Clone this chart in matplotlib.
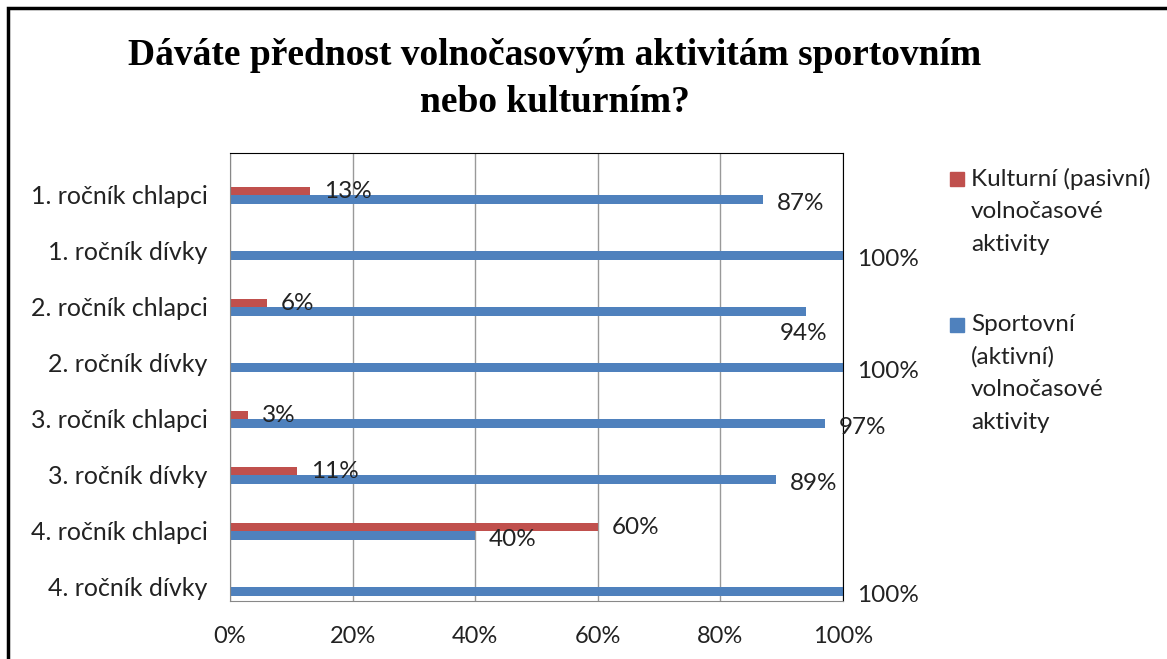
import matplotlib
matplotlib.use("Agg")
import matplotlib.pyplot as plt
from matplotlib.patches import Rectangle
from matplotlib.ticker import PercentFormatter

# data
categories = ["1. ročník chlapci", "1. ročník dívky", "2. ročník chlapci", "2. ročník dívky",
              "3. ročník chlapci", "3. ročník dívky", "4. ročník chlapci", "4. ročník dívky"]
kulturni = [13, 0, 6, 0, 3, 11, 60, 0]
sportovni = [87, 100, 94, 100, 97, 89, 40, 100]
legend_labels = ["Kulturní (pasivní)\nvolnočasové\naktivity",
                 "Sportovní\n(aktivní)\nvolnočasové\naktivity"]
title = "Dáváte přednost volnočasovým aktivitám sportovním\nnebo kulturním?"

red = "#c0504d"
blue = "#4f81bd"
txt = "#222222"
font = ["Lato", "DejaVu Sans"]
W, H = 1167, 659

fig = plt.figure(figsize=(W / 100, H / 100), dpi=100)
ax = fig.add_axes([230 / W, 58 / H, 613 / W, 448 / H])

pos = list(range(len(categories)))
h = 0.15
ax.barh([p + 0.18 for p in pos], kulturni, height=h, color=red)
ax.barh([p + 0.33 for p in pos], sportovni, height=h, color=blue)

# data labels, nudged like in the original
for p, v in zip(pos, kulturni):
    if v > 0:
        ax.annotate(f"{v}%", (v, p + 0.18), xytext=(14, 0), textcoords="offset pixels",
                    ha="left", va="center", fontsize=17.5, family=font, color=txt)
for p, v in zip(pos, sportovni):
    off = (14, -4)
    if v == 94:
        off = (-26, -22)
    ax.annotate(f"{v}%", (v, p + 0.33), xytext=off, textcoords="offset pixels",
                ha="left", va="center", fontsize=17.5, family=font, color=txt,
                annotation_clip=False)

ax.set_xlim(0, 100)
ax.set_ylim(len(categories) - 0.5, -0.5)
ax.set_xticks([0, 20, 40, 60, 80, 100])
ax.xaxis.set_major_formatter(PercentFormatter(decimals=0))
ax.set_yticks([p + 0.25 for p in pos])
ax.set_yticklabels(categories)
for lab in ax.get_xticklabels():
    lab.set_family(font)
    lab.set_fontsize(17)
    lab.set_color(txt)
for lab in ax.get_yticklabels():
    lab.set_family(font)
    lab.set_fontsize(18)
    lab.set_color(txt)
ax.tick_params(axis="x", length=0, pad=18)
ax.tick_params(axis="y", length=0, pad=16)
ax.grid(axis="x", color="#999999", linewidth=1)
ax.set_axisbelow(True)
for s in ["left", "bottom"]:
    ax.spines[s].set_color("#888888")
for s in ["top", "right"]:
    ax.spines[s].set_color("black")

# legend: square next to the first line of each entry
for (col, label), ytop in zip([(red, legend_labels[0]), (blue, legend_labels[1])], [172, 318]):
    fig.add_artist(Rectangle((950 / W, 1 - (ytop + 14) / H), 14 / W, 14 / H,
                             transform=fig.transFigure, color=col))
    fig.text(971 / W, 1 - (ytop - 4) / H, label, ha="left", va="top", fontsize=17.5,
             family=font, color=txt, linespacing=1.66)

fig.text(555 / W, 1 - 79 / H, title, ha="center", va="center", fontsize=27,
         family="Liberation Serif", weight="bold", linespacing=1.45)

# outer frame of the chart
fig.add_artist(Rectangle((8 / W, -0.01), 1.2, 1 - 8 / H + 0.01, transform=fig.transFigure,
                         fill=False, edgecolor="black", linewidth=2.5))

fig.savefig("out.png", dpi=100)
